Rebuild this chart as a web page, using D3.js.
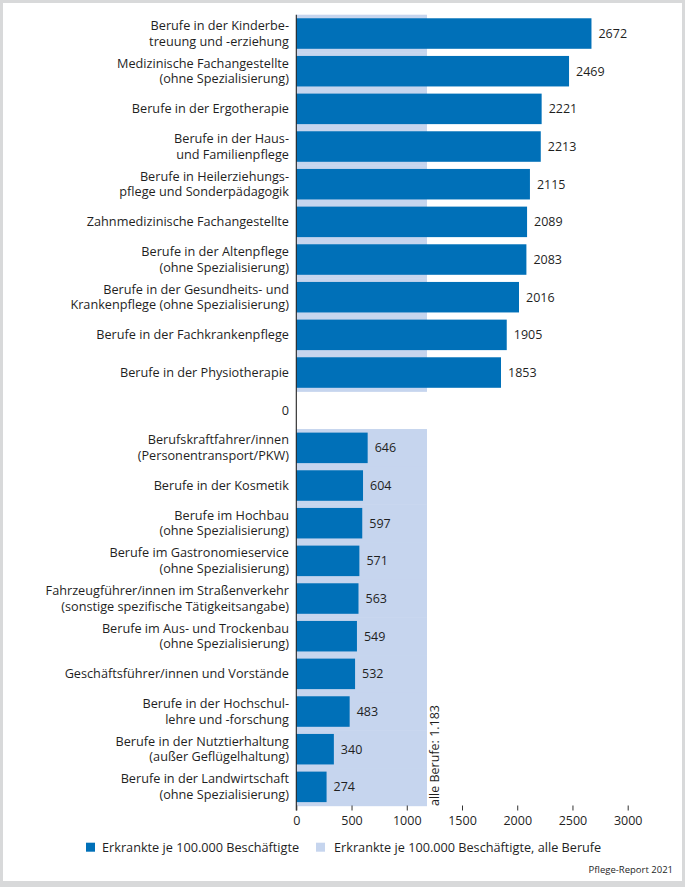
<!DOCTYPE html>
<html><head><meta charset="utf-8">
<script src="https://cdn.jsdelivr.net/npm/d3@7"></script>
<style>body{margin:0;background:#fff}svg{display:block}text{font-family:"Open Sans",sans-serif}</style>
</head><body><div id="chart"></div>
<script>
const topLabels = ["Berufe in der Kinderbe-\ntreuung und -erziehung", "Medizinische Fachangestellte\n(ohne Spezialisierung)", "Berufe in der Ergotherapie", "Berufe in der Haus-\nund Familienpflege", "Berufe in Heilerziehungs-\npflege und Sonderpädagogik", "Zahnmedizinische Fachangestellte", "Berufe in der Altenpflege\n(ohne Spezialisierung)", "Berufe in der Gesundheits- und\nKrankenpflege (ohne Spezialisierung)", "Berufe in der Fachkrankenpflege", "Berufe in der Physiotherapie"];
const topValues = [2672, 2469, 2221, 2213, 2115, 2089, 2083, 2016, 1905, 1853];
const separatorLabel = "0";
const bottomLabels = ["Berufskraftfahrer/innen\n(Personentransport/PKW)", "Berufe in der Kosmetik", "Berufe im Hochbau\n(ohne Spezialisierung)", "Berufe im Gastronomieservice\n(ohne Spezialisierung)", "Fahrzeugführer/innen im Straßenverkehr\n(sonstige spezifische Tätigkeitsangabe)", "Berufe im Aus- und Trockenbau\n(ohne Spezialisierung)", "Geschäftsführer/innen und Vorstände", "Berufe in der Hochschul-\nlehre und -forschung", "Berufe in der Nutztierhaltung\n(außer Geflügelhaltung)", "Berufe in der Landwirtschaft\n(ohne Spezialisierung)"];
const bottomValues = [646, 604, 597, 571, 563, 549, 532, 483, 340, 274];
const allBerufe = 1183;
const allBerufeLabel = "alle Berufe: 1.183";
const xTicks = [0, 500, 1000, 1500, 2000, 2500, 3000];
const legendLabels = ["Erkrankte je 100.000 Beschäftigte", "Erkrankte je 100.000 Beschäftigte, alle Berufe"];
const sourceLabel = "Pflege-Report 2021";

const W = 685, H = 887;
const darkBlue = "#0070b8", lightBlue = "#c6d5ee", textCol = "#1f1f1f";

const rows = [];
topLabels.forEach((l, i) => rows.push({label: l, value: topValues[i], sep: false}));
rows.push({label: separatorLabel, value: null, sep: true});
bottomLabels.forEach((l, i) => rows.push({label: l, value: bottomValues[i], sep: false}));
rows.forEach((r, i) => r.idx = i);

const svg = d3.select("#chart").append("svg").attr("width", W).attr("height", H);
svg.append("rect").attr("width", W).attr("height", H).attr("fill", "#d8d9da");
svg.append("rect").attr("x", 3).attr("y", 3).attr("width", 679).attr("height", 878).attr("fill", "#fff");

const x = d3.scaleLinear().domain([0, 3000]).range([296.3, 627.7]);
const rowScale = d3.scaleBand().domain(rows.map(r => r.idx)).range([14.7, 805.7]).padding(0);
const barScale = d3.scaleBand().domain(rows.map(r => r.idx)).range([14.7, 805.7]).paddingInner(0.19).paddingOuter(0.095);

// light background band (all occupations)
svg.append("g").selectAll("rect").data(rows.filter(r => !r.sep)).join("rect")
  .attr("x", x(0)).attr("y", d => rowScale(d.idx))
  .attr("width", x(allBerufe) - x(0)).attr("height", rowScale.bandwidth() + 0.5)
  .attr("fill", lightBlue);

// bars
svg.append("g").selectAll("rect").data(rows.filter(r => !r.sep)).join("rect")
  .attr("x", x(0)).attr("y", d => barScale(d.idx))
  .attr("width", d => x(d.value) - x(0)).attr("height", barScale.bandwidth())
  .attr("fill", darkBlue);

// value labels
svg.append("g").selectAll("text").data(rows.filter(r => !r.sep)).join("text")
  .attr("x", d => x(d.value) + 7).attr("y", d => barScale(d.idx) + barScale.bandwidth() / 2 + 4.5)
  .attr("font-size", 12.5).attr("fill", textCol).text(d => d.value);

// category labels
const lab = svg.append("g").selectAll("text").data(rows).join("text")
  .attr("text-anchor", "end").attr("font-size", 12.7).attr("fill", textCol);
lab.each(function(d) {
  const lines = d.label.split("\n");
  const cy = rowScale(d.idx) + rowScale.bandwidth() / 2;
  const t = d3.select(this);
  lines.forEach((ln, j) => {
    const base = lines.length === 1 ? cy + 4.5 : cy - 3.5 + j * 15.5;
    t.append("tspan").attr("x", 289).attr("y", base).text(ln);
  });
});

// vertical axis line
svg.append("line").attr("x1", x(0)).attr("x2", x(0)).attr("y1", 14.7).attr("y2", 810.5)
  .attr("stroke", "#222").attr("stroke-width", 1.1);

// x axis
const xAxis = d3.axisBottom(x).tickValues(xTicks).tickSize(5).tickPadding(6).tickFormat(d3.format("d"));
const gx = svg.append("g").attr("transform", "translate(0,805.5)").call(xAxis);
gx.select(".domain").remove();
gx.selectAll(".tick line").attr("stroke", "#333");
gx.selectAll(".tick text").attr("font-size", 12.5).attr("fill", textCol).attr("font-family", "Open Sans");

// vertical annotation
svg.append("text")
  .attr("transform", `translate(${x(allBerufe) + 12.5},806) rotate(-90)`)
  .attr("font-size", 12.5).attr("fill", textCol).text(allBerufeLabel);

// legend
const legend = svg.append("g");
legend.append("rect").attr("x", 86).attr("y", 842.7).attr("width", 9).attr("height", 9).attr("fill", darkBlue);
legend.append("text").attr("x", 102).attr("y", 852).attr("font-size", 12.7).attr("fill", textCol).text(legendLabels[0]);
legend.append("rect").attr("x", 316).attr("y", 842.7).attr("width", 9).attr("height", 9).attr("fill", lightBlue);
legend.append("text").attr("x", 334).attr("y", 852).attr("font-size", 12.7).attr("fill", textCol).text(legendLabels[1]);

svg.append("text").attr("x", 673).attr("y", 873).attr("text-anchor", "end")
  .attr("font-size", 9.5).attr("fill", textCol).text(sourceLabel);
</script></body></html>
